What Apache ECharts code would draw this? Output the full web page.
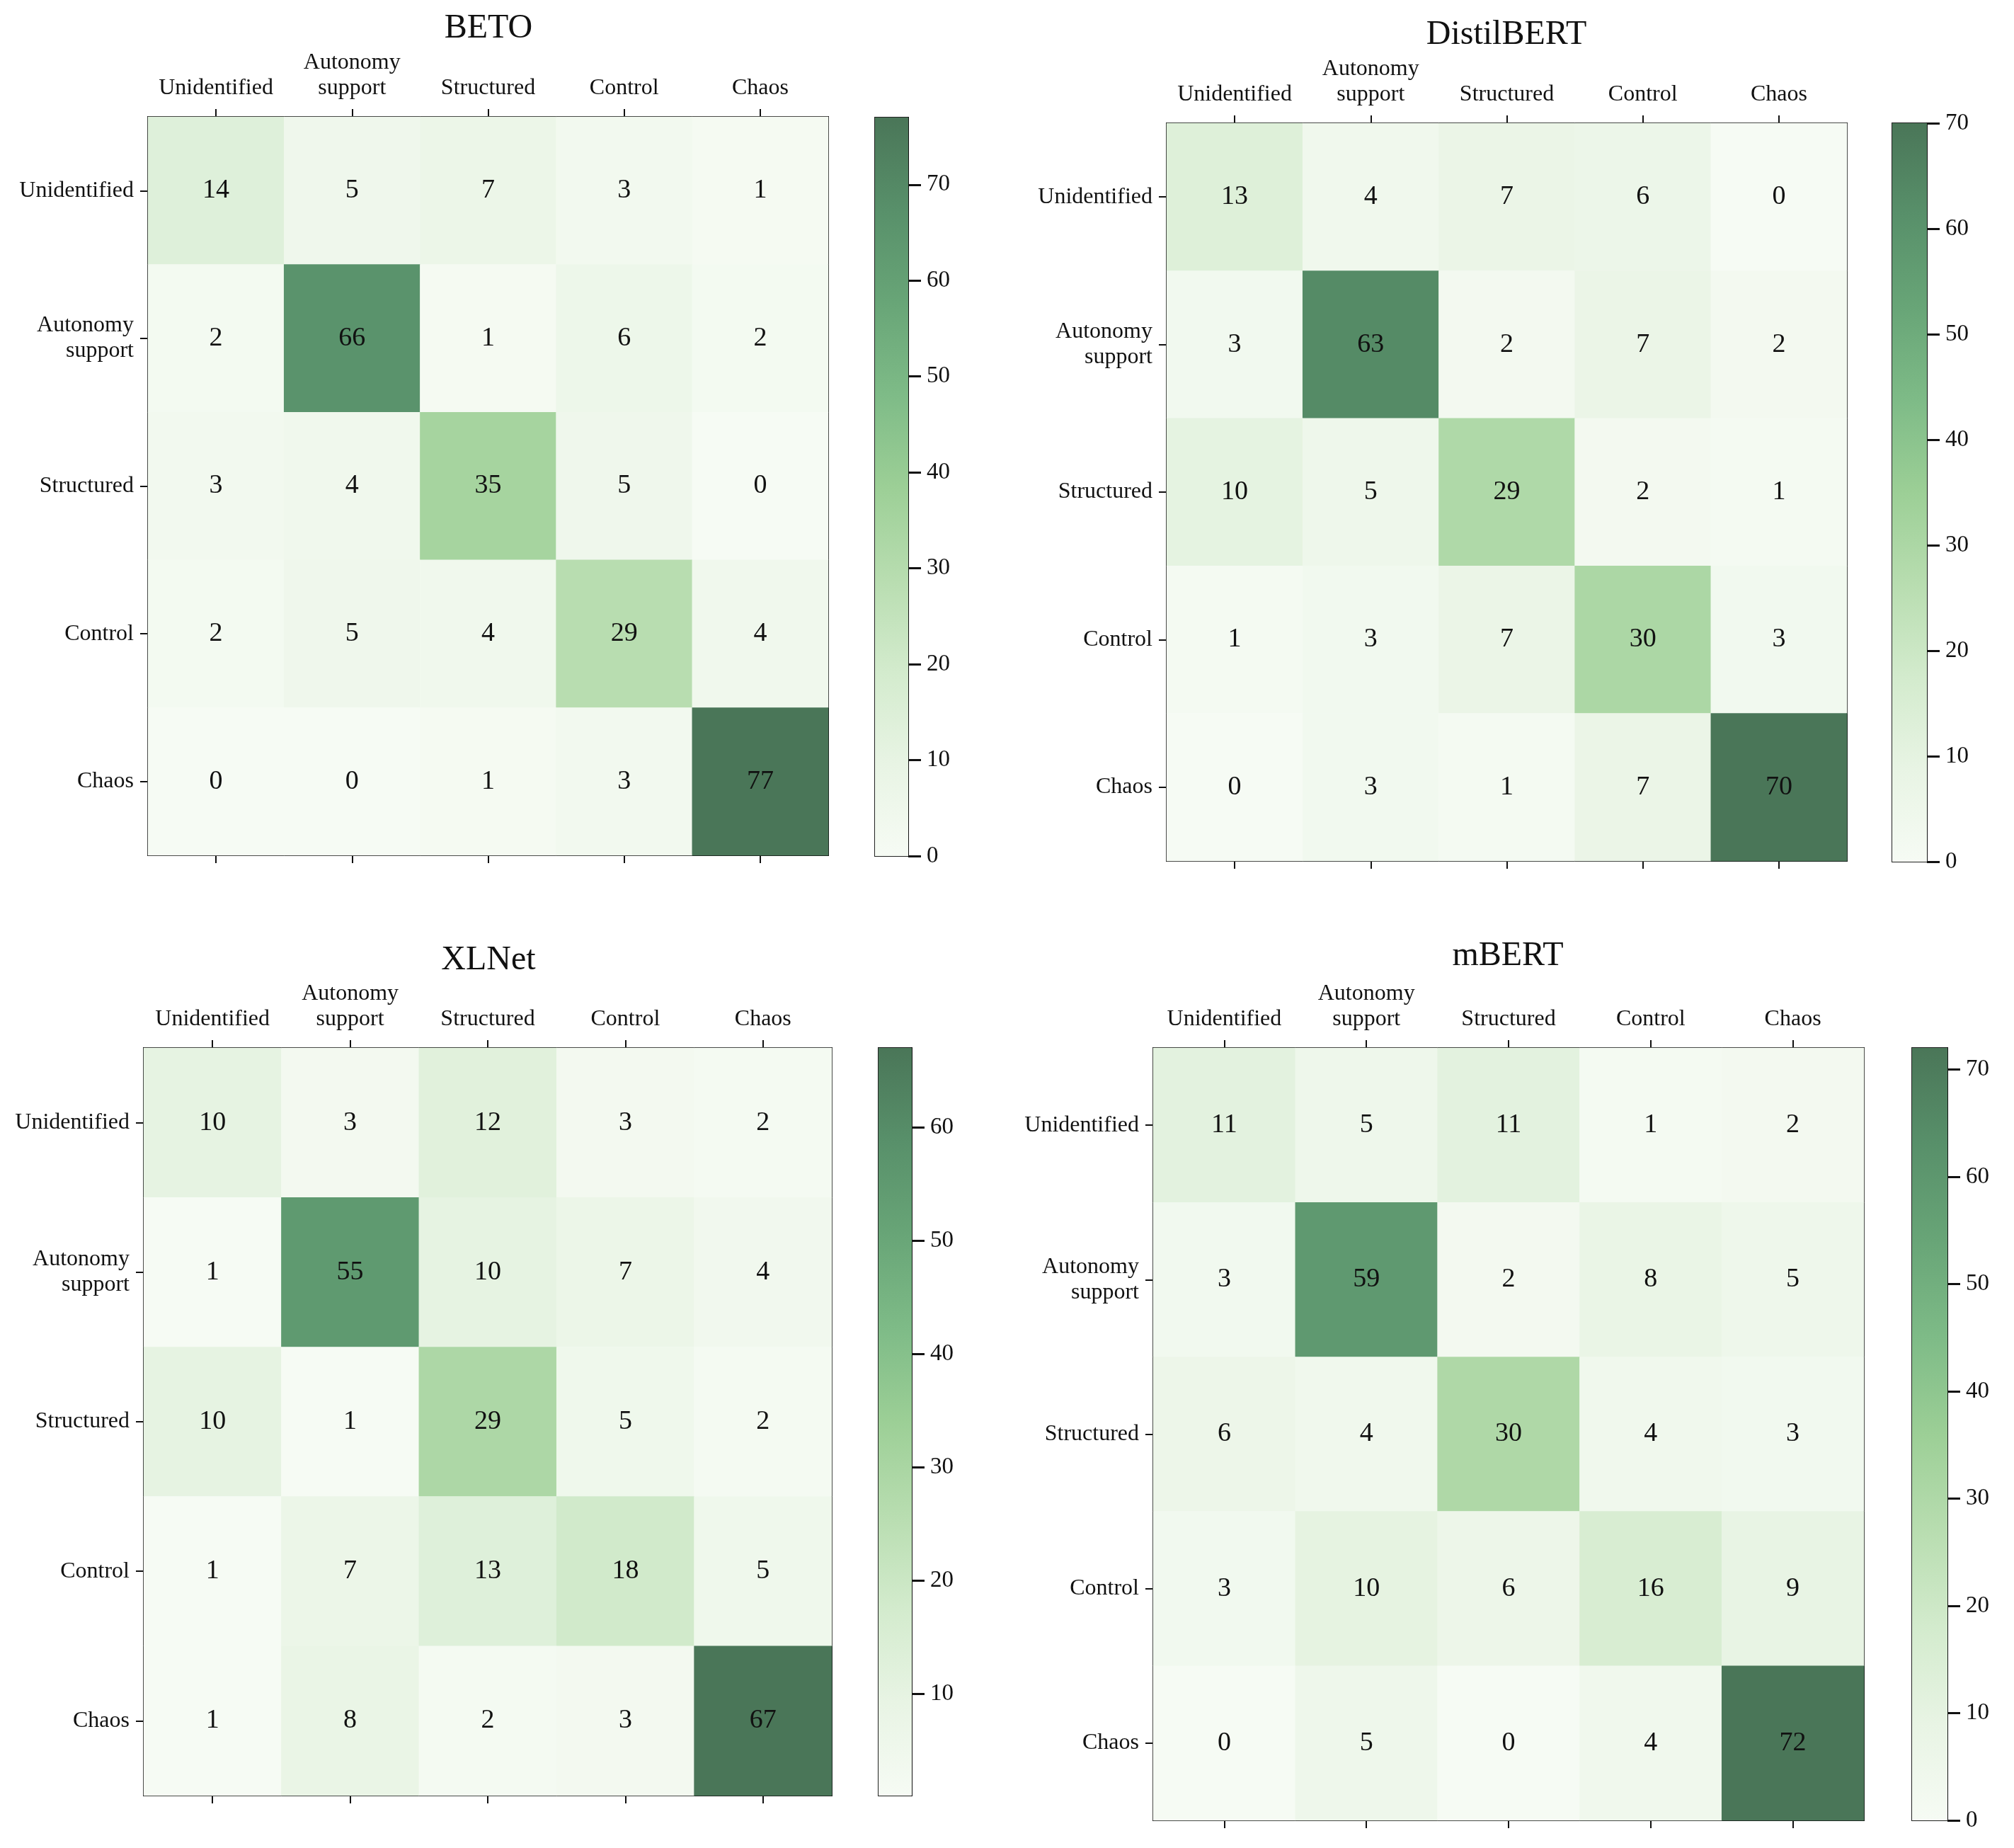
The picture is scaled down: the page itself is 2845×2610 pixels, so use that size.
<!DOCTYPE html>
<html>
<head>
<meta charset="utf-8">
<title>Confusion matrices</title>
<script src="https://cdn.jsdelivr.net/npm/echarts@6/dist/echarts.min.js"></script>
<style>
  html, body { margin: 0; padding: 0; background: #fff; }
  #main { width: 2845px; height: 2610px; }
</style>
</head>
<body>
<div id="main"></div>
<script>
// category labels (rows = true class, columns = predicted class)
const classes = ['Unidentified', 'Autonomy\nsupport', 'Structured', 'Control', 'Chaos'];

const models = ['BETO', 'DistilBERT', 'XLNet', 'mBERT'];

const betoMatrix = [
  [14, 5, 7, 3, 1],
  [2, 66, 1, 6, 2],
  [3, 4, 35, 5, 0],
  [2, 5, 4, 29, 4],
  [0, 0, 1, 3, 77]
];
const distilMatrix = [
  [13, 4, 7, 6, 0],
  [3, 63, 2, 7, 2],
  [10, 5, 29, 2, 1],
  [1, 3, 7, 30, 3],
  [0, 3, 1, 7, 70]
];
const xlnetMatrix = [
  [10, 3, 12, 3, 2],
  [1, 55, 10, 7, 4],
  [10, 1, 29, 5, 2],
  [1, 7, 13, 18, 5],
  [1, 8, 2, 3, 67]
];
const mbertMatrix = [
  [11, 5, 11, 1, 2],
  [3, 59, 2, 8, 5],
  [6, 4, 30, 4, 3],
  [3, 10, 6, 16, 9],
  [0, 5, 0, 4, 72]
];
const matrices = [betoMatrix, distilMatrix, xlnetMatrix, mbertMatrix];

// colorbar tick labels
const betoTicks = [0, 10, 20, 30, 40, 50, 60, 70];
const distilTicks = [0, 10, 20, 30, 40, 50, 60, 70];
const xlnetTicks = [10, 20, 30, 40, 50, 60];
const mbertTicks = [0, 10, 20, 30, 40, 50, 60, 70];
const colorbarTicks = [betoTicks, distilTicks, xlnetTicks, mbertTicks];

// light -> dark green ramp
const greens = ['#f6fbf4', '#e8f4e4', '#d3ebcd', '#b8ddb0', '#9ccf96',
  '#7ebb87', '#68a577', '#58906a', '#4a7658'];

// pixel layout of each panel: title centre, heatmap grid, colorbar grid
const layout = [
  { title: [690, 16], grid: [209, 165, 961, 1043], bar: [1236, 166, 47, 1043] },
  { title: [2128, 25], grid: [1648, 174, 961, 1042], bar: [2673, 174, 49, 1043] },
  { title: [690, 1332], grid: [203, 1480, 972, 1056], bar: [1241, 1480, 47, 1056] },
  { title: [2130, 1326], grid: [1629, 1480, 1004, 1091], bar: [2701, 1480, 50, 1091] }
];

const FONT = 'Liberation Serif';
const INK = '#111';

function flatten(matrix) {
  let arr = [];
  matrix.forEach(function (row, r) {
    row.forEach(function (v, c) {
      arr.push([c, r, v]);
    });
  });
  return arr;
}

function extent(matrix) {
  let all = [].concat.apply([], matrix);
  return [Math.min.apply(null, all), Math.max.apply(null, all)];
}

let title = [], grid = [], xAxis = [], yAxis = [], series = [], visualMap = [];

models.forEach(function (name, i) {
  const L = layout[i];
  const ext = extent(matrices[i]);

  title.push({
    text: name, left: L.title[0], top: L.title[1], padding: 0,
    textAlign: 'center',
    textStyle: { fontFamily: FONT, fontSize: 48, fontWeight: 'normal', color: INK }
  });

  grid.push({
    left: L.grid[0], top: L.grid[1], width: L.grid[2], height: L.grid[3],
    show: true, borderColor: '#111', borderWidth: 2, backgroundColor: 'transparent'
  });
  grid.push({
    left: L.bar[0], top: L.bar[1], width: L.bar[2], height: L.bar[3],
    show: true, borderColor: '#222', borderWidth: 2, backgroundColor: 'transparent'
  });

  const heatGrid = 2 * i, barGrid = 2 * i + 1;
  const axisLine = { show: true, lineStyle: { color: '#111', width: 2 } };
  const tick = { show: true, alignWithLabel: true, length: 11, lineStyle: { color: '#111', width: 2 } };

  // top axis with labels
  xAxis.push({
    type: 'category', gridIndex: heatGrid, position: 'top', data: classes,
    axisLine: axisLine, axisTick: tick,
    axisLabel: { fontFamily: FONT, fontSize: 32, color: INK, margin: 22, interval: 0, lineHeight: 36 }
  });
  // bottom axis, ticks only
  xAxis.push({
    type: 'category', gridIndex: heatGrid, position: 'bottom', data: classes,
    axisLine: axisLine, axisTick: tick, axisLabel: { show: false }
  });
  // colorbar category axis (hidden)
  xAxis.push({
    type: 'category', gridIndex: barGrid, data: [''],
    axisLine: { show: false }, axisTick: { show: false }, axisLabel: { show: false }
  });

  yAxis.push({
    type: 'category', gridIndex: heatGrid, data: classes, inverse: true,
    axisLine: axisLine, axisTick: tick,
    axisLabel: { fontFamily: FONT, fontSize: 32, color: INK, margin: 20, interval: 0, lineHeight: 36, align: 'right' }
  });
  yAxis.push({
    type: 'value', gridIndex: barGrid, position: 'right', min: ext[0], max: ext[1],
    splitLine: { show: false },
    axisLine: { show: true, lineStyle: { color: '#111', width: 2 } },
    axisTick: { show: true, length: 18, customValues: colorbarTicks[i], lineStyle: { color: '#111', width: 3 } },
    axisLabel: { fontFamily: FONT, fontSize: 33, color: INK, margin: 26, customValues: colorbarTicks[i] }
  });

  series.push({
    type: 'heatmap', name: name, xAxisIndex: 3 * i, yAxisIndex: 2 * i,
    data: flatten(matrices[i]),
    label: {
      show: true, fontFamily: FONT, fontSize: 38, color: INK,
      formatter: function (p) { return p.value[2]; }
    },
    itemStyle: { borderWidth: 0 },
    emphasis: { disabled: true }
  });

  visualMap.push({
    type: 'continuous', show: false, seriesIndex: series.length - 1,
    min: ext[0], max: ext[1], dimension: 2,
    inRange: { color: greens }
  });
});

// colorbars: a stacked bar from min to max filled with the same ramp
models.forEach(function (name, i) {
  const ext = extent(matrices[i]);
  const stops = greens.map(function (c, k) {
    return { offset: 1 - k / (greens.length - 1), color: c };
  }).reverse();
  series.push({
    type: 'bar', xAxisIndex: 3 * i + 2, yAxisIndex: 2 * i + 1, stack: 'cb' + i,
    barWidth: '100%', data: [ext[0]], silent: true,
    itemStyle: { color: 'transparent' }
  });
  series.push({
    type: 'bar', xAxisIndex: 3 * i + 2, yAxisIndex: 2 * i + 1, stack: 'cb' + i,
    barWidth: '100%', data: [ext[1] - ext[0]], silent: true,
    itemStyle: {
      color: { type: 'linear', x: 0, y: 0, x2: 0, y2: 1, colorStops: stops }
    }
  });
});

const myChart = echarts.init(document.getElementById('main'), null, { renderer: 'canvas' });
myChart.setOption({
  backgroundColor: '#fff',
  animation: false,
  title: title,
  grid: grid,
  xAxis: xAxis,
  yAxis: yAxis,
  visualMap: visualMap,
  series: series
});
window.addEventListener('resize', function () {
  myChart.resize();
});
</script>
</body>
</html>
